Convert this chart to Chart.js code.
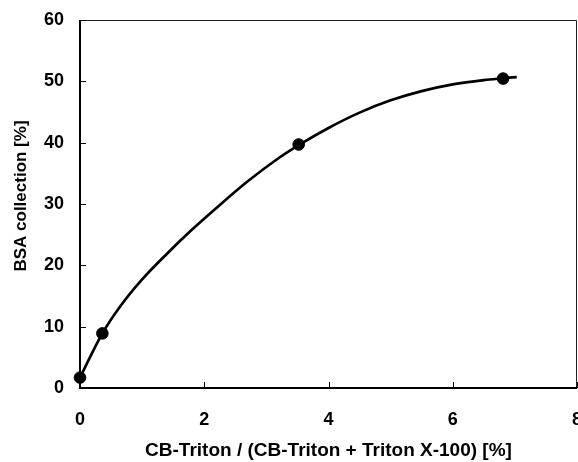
<!DOCTYPE html>
<html>
<head>
<meta charset="utf-8">
<script src="https://cdn.jsdelivr.net/npm/chart.js@4"></script>
<style>
  html, body { margin: 0; padding: 0; background: #fff; overflow: hidden; }
  #wrap { width: 578px; height: 462px; }
</style>
</head>
<body>
<div id="wrap"><canvas id="chart"></canvas></div>
<script>
// Measured points
const ratioX = [0, 0.36, 3.52, 6.81]
const collectionY = [1.7, 8.9, 39.7, 50.45]

// Fitted curve
const curveX = [0, 0.16, 0.36, 0.64, 1.0, 1.4, 1.8, 2.2, 2.7, 3.2, 3.52, 4.0, 4.5, 5.0, 5.5, 6.0, 6.5, 6.81, 7.03]
const curveY = [1.7, 5.0, 8.9, 13.2, 17.7, 21.9, 25.8, 29.4, 33.7, 37.5, 39.6, 42.4, 44.9, 46.9, 48.4, 49.5, 50.2, 50.5, 50.7]

const xTicks = [0, 2, 4, 6, 8]
const yTicks = [0, 10, 20, 30, 40, 50, 60]

const yTitle = "BSA collection [%]"
const xTitle = "CB-Triton / (CB-Triton + Triton X-100) [%]"

const fontFamily = "'Liberation Sans', Arial, sans-serif"

// Frame, inward tick marks and the y title
const framePlugin = {
  id: "frame",
  afterDatasetsDraw(chart) {
    const { ctx, chartArea: a, scales } = chart
    ctx.save()
    ctx.strokeStyle = "#222"
    ctx.lineWidth = 1
    ctx.beginPath()
    ctx.moveTo(a.left, a.top + 0.5)
    ctx.lineTo(a.right - 0.5, a.top + 0.5)
    ctx.lineTo(a.right - 0.5, a.bottom)
    ctx.stroke()

    ctx.strokeStyle = "#000"
    ctx.lineWidth = 2
    ctx.beginPath()
    ctx.moveTo(a.left, a.top)
    ctx.lineTo(a.left, a.bottom)
    ctx.lineTo(a.right, a.bottom)
    ctx.stroke()

    ctx.lineWidth = 1
    yTicks.forEach((v) => {
      const y = Math.round(scales.y.getPixelForValue(v)) + 0.5
      ctx.beginPath()
      ctx.moveTo(a.left, y)
      ctx.lineTo(a.left + 6, y)
      ctx.stroke()
    })
    xTicks.forEach((v) => {
      const x = Math.round(scales.x.getPixelForValue(v)) + 0.5
      ctx.beginPath()
      ctx.moveTo(x, a.bottom)
      ctx.lineTo(x, a.bottom - 6)
      ctx.stroke()
    })

    // y title, centred a little above the plot middle like the original
    ctx.translate(21, (a.top + a.bottom) / 2 - 8)
    ctx.rotate(-Math.PI / 2)
    ctx.fillStyle = "#000"
    ctx.font = "bold 17px " + fontFamily
    ctx.textAlign = "center"
    ctx.textBaseline = "middle"
    ctx.fillText(yTitle, 0, 0)
    ctx.restore()
  },
}

new Chart(document.getElementById("chart"), {
  type: "scatter",
  data: {
    datasets: [
      {
        label: "fit",
        data: curveX.map((x, i) => ({ x, y: curveY[i] })),
        showLine: true,
        borderColor: "#000",
        borderWidth: 2.7,
        pointRadius: 0,
        cubicInterpolationMode: "monotone",
        clip: false,
        order: 2,
      },
      {
        label: "BSA",
        data: ratioX.map((x, i) => ({ x, y: collectionY[i] })),
        backgroundColor: "#000",
        borderColor: "#000",
        pointRadius: 5.8,
        clip: false,
        order: 1,
      },
    ],
  },
  options: {
    responsive: true,
    maintainAspectRatio: false,
    animation: false,
    layout: { autoPadding: false, padding: { top: 20, right: 1, left: 0, bottom: 0 } },
    plugins: {
      legend: { display: false },
      tooltip: { enabled: false },
    },
    scales: {
      x: {
        type: "linear",
        min: 0,
        max: 8,
        border: { display: false },
        grid: { display: false, drawTicks: false },
        afterBuildTicks: (s) => { s.ticks = xTicks.map((v) => ({ value: v })) },
        afterFit: (s) => { s.height = 74; s.paddingLeft = 0; s.paddingRight = 0 },
        ticks: {
          color: "#000",
          padding: 21,
          maxRotation: 0,
          font: { family: fontFamily, size: 18, weight: "bold" },
        },
        title: {
          display: true,
          text: xTitle,
          color: "#000",
          padding: { top: 0, bottom: 0 },
          font: { family: fontFamily, size: 19, weight: "bold" },
        },
      },
      y: {
        type: "linear",
        min: 0,
        max: 60,
        border: { display: false },
        grid: { display: false, drawTicks: false },
        afterBuildTicks: (s) => { s.ticks = yTicks.map((v) => ({ value: v })) },
        afterFit: (s) => { s.width = 80; s.paddingTop = 0; s.paddingBottom = 0 },
        ticks: {
          color: "#000",
          padding: 16,
          font: { family: fontFamily, size: 18, weight: "bold" },
        },
        title: { display: false },
      },
    },
  },
  plugins: [framePlugin],
})
</script>
</body>
</html>
